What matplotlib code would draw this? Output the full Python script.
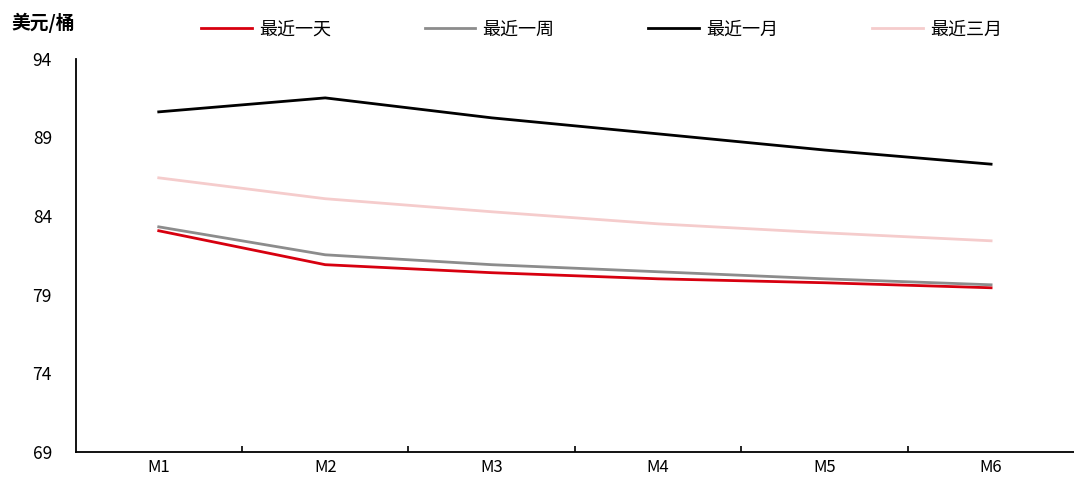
import matplotlib
matplotlib.use("Agg")
import matplotlib.pyplot as plt

plt.rcParams['font.family'] = ['Noto Sans CJK SC', 'DejaVu Sans']

months = ["M1", "M2", "M3", "M4", "M5", "M6"]
last_day = [83.06, 80.9, 80.39, 80.0, 79.75, 79.43]
last_week = [83.31, 81.53, 80.9, 80.45, 80.0, 79.62]
last_month = [90.63, 91.52, 90.25, 89.23, 88.2, 87.3]
last_3month = [86.43, 85.1, 84.27, 83.5, 82.93, 82.42]

series = [
    ("最近一天", last_day, "#d7000f"),
    ("最近一周", last_week, "#8c8c8c"),
    ("最近一月", last_month, "#000000"),
    ("最近三月", last_3month, "#f5cccc"),
]

fig = plt.figure(figsize=(10.74, 4.8), dpi=100)
ax = fig.add_axes([0.0703, 0.0592, 0.93, 0.818])

x = list(range(len(months)))
for name, vals, color in series:
    ax.plot(x, vals, color=color, lw=2, label=name)

ax.set_xlim(-0.5, len(months) - 0.5)
ax.set_ylim(69, 94)
ax.set_yticks(range(69, 95, 5))
ax.set_xticks(x)
ax.set_xticklabels(months, fontsize=12)
ax.set_xticks([i + 0.5 for i in range(len(months) - 1)], minor=True)
ax.tick_params(axis='x', which='major', length=0, pad=5)
ax.tick_params(axis='x', which='minor', direction='in', length=4, width=1.2)
ax.tick_params(axis='y', direction='in', length=0, labelsize=12.5, pad=17)

for side in ("top", "right"):
    ax.spines[side].set_visible(False)
for side in ("left", "bottom"):
    ax.spines[side].set_linewidth(1.3)

fig.text(0.011, 0.953, "美元/桶", fontsize=13.5, fontweight='bold', va='center')

fig.legend(loc='center', bbox_to_anchor=(0.56, 0.938), ncol=4, frameon=False,
           fontsize=13, handlelength=2.8, handletextpad=0.4, columnspacing=5.2)

fig.savefig("out.png", dpi=100)
